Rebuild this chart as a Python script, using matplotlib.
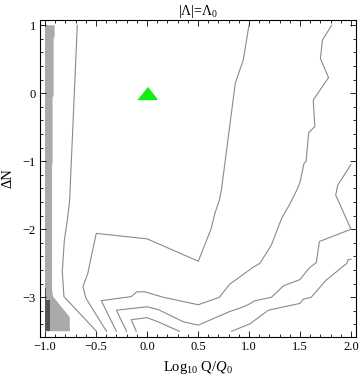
import numpy as np
import matplotlib
matplotlib.use('Agg')
import matplotlib.pyplot as plt

plt.rcParams['font.family'] = ['Liberation Serif', 'DejaVu Serif']
plt.rcParams['mathtext.fontset'] = 'custom'
plt.rcParams['mathtext.rm'] = 'Liberation Serif'
plt.rcParams['mathtext.it'] = 'Liberation Serif:italic'

# contour lines
line_a_x = [-0.683, -0.758, -0.78, -0.81, -0.83, -0.814, -0.495]
line_a_y = [1.0, -1.57, -1.86, -2.16, -2.62, -2.99, -3.5]

line_b_x = [1.0, 0.944, 0.866, 0.73, 0.71, 0.667, 0.627, 0.503, 0.0, -0.07,
            -0.497, -0.546, -0.58, -0.627, -0.6, -0.397]
line_b_y = [1.0, 0.49, 0.15, -1.42, -1.57, -1.76, -2.0, -2.47, -2.14, -2.13,
            -2.06, -2.40, -2.65, -2.84, -3.01, -3.5]

line_c_x = [1.81, 1.72, 1.70, 1.78, 1.63, 1.645, 1.585, 1.56, 1.54, 1.5, 1.47,
            1.40, 1.32, 1.22, 1.108, 1.04, 0.91, 0.81, 0.709, 0.503, 0.16,
            -0.02, -0.10, -0.154, -0.448, -0.3]
line_c_y = [1.0, 0.78, 0.51, 0.23, -0.1, -0.49, -0.58, -1.0, -1.03, -1.31, -1.42,
            -1.63, -1.84, -2.23, -2.5, -2.56, -2.70, -2.81, -3.0, -3.11, -3.0,
            -2.92, -2.92, -2.99, -3.05, -3.5]

line_d_x = [2.0, 1.87, 1.85, 1.89, 2.0, 1.69, 1.66, 1.59, 1.5, 1.34, 1.22, 1.06,
            0.99, 0.91, 0.81, 0.503, 0.356, 0.108, 0.0, -0.30, -0.2]
line_d_y = [-1.05, -1.35, -1.50, -1.63, -2.0, -2.18, -2.49, -2.57, -2.74, -2.83,
            -3.0, -3.05, -3.11, -3.16, -3.21, -3.41, -3.36, -3.18, -3.14, -3.19, -3.5]

line_e_x = [-0.105, -0.154, 0.0, 0.108, 0.317]
line_e_y = [-3.5, -3.33, -3.30, -3.36, -3.5]

line_f_x = [0.83, 1.01, 1.19, 1.5, 1.53, 1.61, 1.755, 1.96, 1.97, 2.0]
line_f_y = [-3.5, -3.39, -3.19, -3.09, -3.03, -3.0, -2.75, -2.5, -2.45, -2.44]

contour_lines = [(line_a_x, line_a_y), (line_b_x, line_b_y), (line_c_x, line_c_y),
                 (line_d_x, line_d_y), (line_e_x, line_e_y), (line_f_x, line_f_y)]

# shaded regions along the left edge
light_x = [-1.0, -0.905, -0.905, -0.915, -0.915, -0.925, -0.925, -0.93, -0.93,
           -0.92, -0.758, -0.755, -1.0]
light_y = [1.0, 1.0, 0.82, 0.82, -0.05, -0.05, -1.03, -1.03, -2.9,
           -2.99, -3.29, -3.5, -3.5]
dark_x = [-1.0, -0.985, -0.985, -0.954, -0.954, -1.0]
dark_y = [-2.87, -2.87, -3.04, -3.04, -3.5, -3.5]

marker_x = [0.0]
marker_y = [0.0]

x_ticks = [-1.0, -0.5, 0.0, 0.5, 1.0, 1.5, 2.0]
y_ticks = [-3, -2, -1, 0, 1]

fig = plt.figure(figsize=(3.6, 3.78), dpi=100)
ax = fig.add_axes([0.111, 0.1085, 0.877, 0.8395])

ax.fill(light_x, light_y, color='#aaaaaa', lw=0)
ax.fill(dark_x, dark_y, color='#555555', lw=0)

for xs, ys in contour_lines:
    ax.plot(xs, ys, color='#8a8a8a', lw=0.8)

tri = [(-1, -0.63), (1, -0.63), (0, 0.63)]
ax.plot(marker_x, marker_y, marker=tri, ms=13.7, color='#11ee11', ls='none')

ax.set_xlim(-1.049, 2.046)
ax.set_ylim(-3.584, 1.082)
ax.set_xticks(x_ticks)
ax.set_xticklabels(['\u22121.0', '\u22120.5', '0.0', '0.5', '1.0', '1.5', '2.0'])
ax.set_yticks(y_ticks)
ax.set_yticklabels(['\u22123', '\u22122', '\u22121', '0', '1'])
ax.set_xticks(np.arange(-1.0, 2.05, 0.1), minor=True)
ax.set_yticks(np.arange(-3.4, 1.05, 0.2), minor=True)
ax.tick_params(which='both', direction='in', top=True, right=True, width=0.6,
               labelsize=9, pad=3)
ax.tick_params(which='major', length=4)
ax.tick_params(which='minor', length=2.3)
for s in ax.spines.values():
    s.set_linewidth(0.8)

ax.set_xlabel('Log$_{10}$ Q/$Q_0$', fontsize=10.5, labelpad=4)
ax.set_ylabel('\u0394N', fontsize=10.5, labelpad=6)
ax.set_title('|\u039b|=\u039b$_0$', fontsize=10, pad=3)

fig.savefig('out.png', dpi=100)
